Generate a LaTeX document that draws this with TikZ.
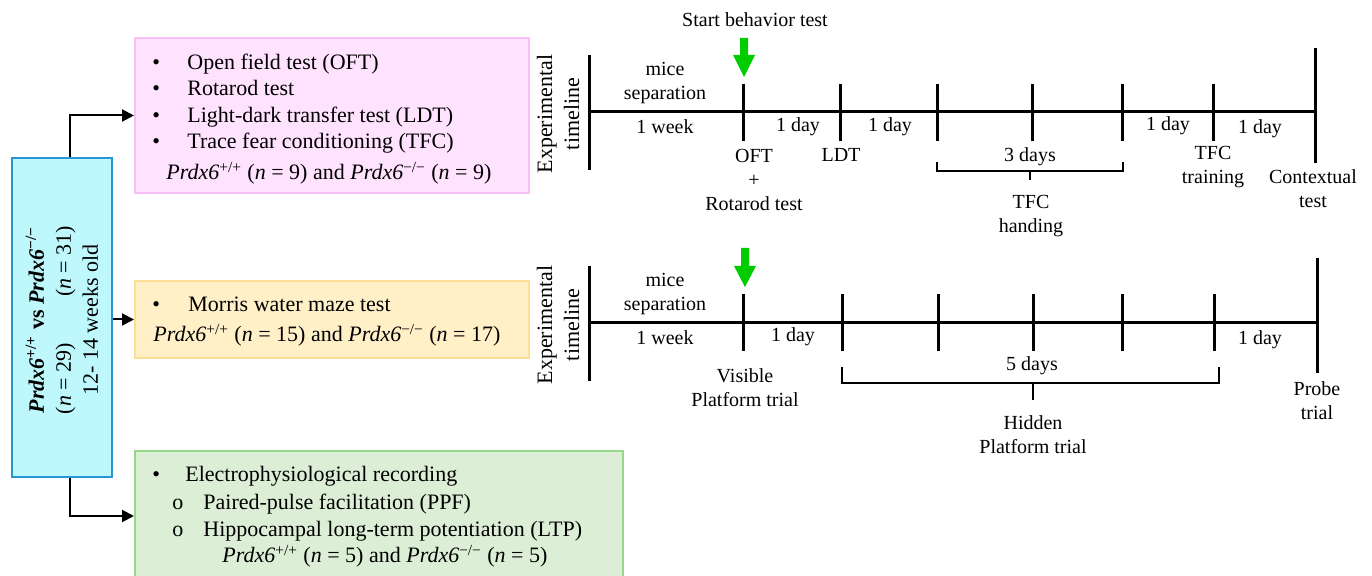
\documentclass[tikz,border=0pt]{standalone}
\usepackage{fontspec}
\setmainfont{Liberation Serif}
\usetikzlibrary{arrows.meta,calc}
\definecolor{pinkfill}{RGB}{254,226,254}
\definecolor{pinkdraw}{RGB}{248,190,248}
\definecolor{orfill}{RGB}{255,240,200}
\definecolor{ordraw}{RGB}{252,222,150}
\definecolor{grfill}{RGB}{220,238,214}
\definecolor{grdraw}{RGB}{150,215,140}
\definecolor{cyfill}{RGB}{190,248,252}
\definecolor{cydraw}{RGB}{40,150,212}
\definecolor{arrowgreen}{RGB}{0,204,0}
\newcommand{\PW}{\textit{Prdx6}\textsuperscript{+/+}}
\newcommand{\PK}{\textit{Prdx6}\textsuperscript{−/−}}
\newcommand{\nn}{\textit{n}}
\begin{document}
\begin{tikzpicture}[x=0.5pt,y=-0.5pt,
  box/.style={line width=1pt, inner sep=0pt, anchor=north west},
  txt/.style={font=\fontsize{11}{13}\selectfont, inner sep=0pt, anchor=base west},
  tl/.style={font=\fontsize{10}{12}\selectfont, inner sep=0pt, align=center},
  vlab/.style={font=\fontsize{11}{13.5}\selectfont, inner sep=0pt, align=center, rotate=90},
  tline/.style={line width=1.5pt},
  brk/.style={line width=1.3pt},
  conn/.style={line width=1pt, -{Triangle[length=6pt,width=6pt]}},
  garrow/.style={fill=arrowgreen}
]
\useasboundingbox (0,0) rectangle (1372,576);

% boxes
\node[box, draw=cydraw, fill=cyfill, minimum width=50pt, minimum height=159.5pt] (cyan) at (11,157) {};
\node[box, draw=pinkdraw, fill=pinkfill, minimum width=197pt, minimum height=77.5pt] (pink) at (134,37) {};
\node[box, draw=ordraw, fill=orfill, minimum width=197pt, minimum height=38.5pt] (orange) at (134,280) {};
\node[box, draw=grdraw, fill=grfill, minimum width=244pt, minimum height=65pt] (green) at (134,450) {};

% cyan text
\node[vlab] (cytext) at (62,320) {\textbf{\PW\ vs \PK}\\(\nn\ = 29)\hspace{2.1em}(\nn\ = 31)\\12- 14 weeks old};

% connectors
\draw[conn] ([xshift=4pt]cyan.north) |- (pink.west);
\draw[conn] (cyan.east |- orange.west) -- (orange.west);
\draw[conn] ([xshift=4pt]cyan.south) |- (green.west);

% pink text
\node[txt] (pb1) at (152,70) {•};
\node[txt] (p1) at (187,70) {Open field test (OFT)};
\node[txt] (pb2) at (152,96) {•};
\node[txt] (p2) at (187,96) {Rotarod test};
\node[txt] (pb3) at (152,123) {•};
\node[txt] (p3) at (187,123) {Light-dark transfer test (LDT)};
\node[txt] (pb4) at (152,149) {•};
\node[txt] (p4) at (187,149) {Trace fear conditioning (TFC)};
\node[txt] (p5) at (166,180) {\PW\ (\nn\ = 9) and \PK\ (\nn\ = 9)};

% orange text
\node[txt] (ob1) at (152,312) {•};
\node[txt] (o1) at (188,312) {Morris water maze test};
\node[txt] (o2) at (153,342) {\PW\ (\nn\ = 15) and \PK\ (\nn\ = 17)};

% green text
\node[txt] (gb1) at (152,482) {•};
\node[txt] (g1) at (185,482) {Electrophysiological recording};
\node[txt] (gb2) at (172,510) {o};
\node[txt] (g2) at (203,510) {Paired-pulse facilitation (PPF)};
\node[txt] (gb3) at (172,537) {o};
\node[txt] (g3) at (203,537) {Hippocampal long-term potentiation (LTP)};
\node[txt] (g4) at (222,563) {\PW\ (\nn\ = 5) and \PK\ (\nn\ = 5)};

% ---------- timeline 1 ----------
\node[vlab] (exp1) at (558,114) {Experimental\\timeline};
\draw[tline] (589,112) -- (1315,112);
\draw[tline] (589,55) -- (589,170);
\foreach \x in {743,840,937,1032,1122,1213} \draw[tline] (\x,84) -- (\x,141);
\draw[tline] (1315,48) -- (1315,163);
\draw[brk] (937,162) -- (937,171) -- (1123,171) -- (1123,162);
\draw[brk] (1030,171) -- (1030,180);
\fill[garrow] (740,38) -- (748,38) -- (748,55) -- (755,55) -- (744,77) -- (733,55) -- (740,55) -- cycle;

\node[tl] (start) at (755,20) {Start behavior test};
\node[tl] (ms1) at (665,83) {mice\\separation};
\node[tl] (wk1) at (665,127) {1 week};
\node[tl] (d1a) at (798,127) {1 day};
\node[tl] (d1b) at (890,127) {1 day};
\node[tl] (oft) at (754,180) {OFT\\+\\Rotarod test};
\node[tl] (ldt) at (841,155) {LDT};
\node[tl] (d3) at (1030,157) {3 days};
\node[tl] (tfch) at (1031,216) {TFC\\handing};
\node[tl] (d1c) at (1168,126) {1 day};
\node[tl] (tfct) at (1213,167) {TFC\\training};
\node[tl] (d1d) at (1260,129) {1 day};
\node[tl] (ctx) at (1313,189) {Contextual\\test};

% ---------- timeline 2 ----------
\node[vlab] (exp2) at (558,325) {Experimental\\timeline};
\draw[tline] (589,323) -- (1317,323);
\draw[tline] (589,266) -- (589,381);
\foreach \x in {743,842,938,1033,1122,1214} \draw[tline] (\x,294) -- (\x,351);
\draw[tline] (1317,258) -- (1317,373);
\draw[brk] (842,367) -- (842,383) -- (1219,383) -- (1219,367);
\draw[brk] (1033,383) -- (1033,400);
\fill[garrow] (741,248) -- (749,248) -- (749,266) -- (756,266) -- (745,287) -- (734,266) -- (741,266) -- cycle;

\node[tl] (ms2) at (665,294) {mice\\separation};
\node[tl] (wk2) at (665,338) {1 week};
\node[tl] (d2a) at (793,337) {1 day};
\node[tl] (vis) at (745,388) {Visible\\Platform trial};
\node[tl] (d5) at (1032,366) {5 days};
\node[tl] (hid) at (1033,435) {Hidden\\Platform trial};
\node[tl] (d2b) at (1260,340) {1 day};
\node[tl] (probe) at (1317,401) {Probe\\trial};
\end{tikzpicture}
\end{document}
